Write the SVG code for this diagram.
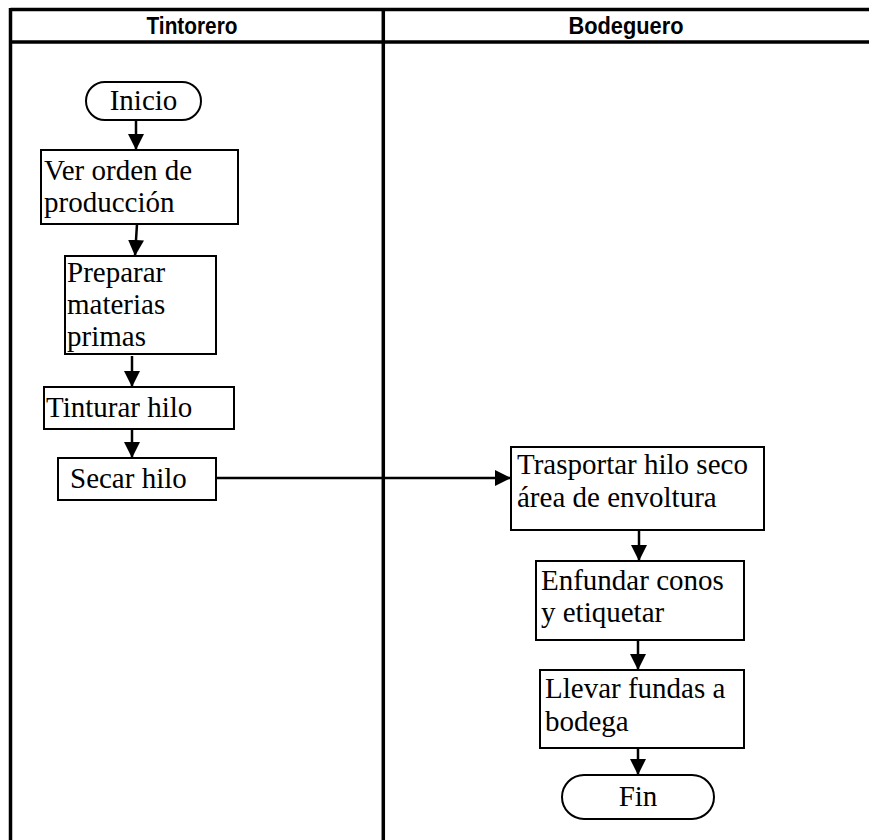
<svg xmlns="http://www.w3.org/2000/svg" width="869" height="840" viewBox="0 0 869 840">
<style>
.lane{fill:none;stroke:#000;stroke-width:3.5}
.hdr{font-family:"Liberation Sans",Arial,sans-serif;font-weight:bold;font-size:23px;fill:#000;text-anchor:middle}
.box{fill:#fff;stroke:#000;stroke-width:2}
.t{font-family:"Liberation Serif","Times New Roman",serif;font-size:29px;fill:#000}
.c{text-anchor:middle}
.con{fill:none;stroke:#000;stroke-width:2.5}
</style>
<defs>
<marker id="ah" markerUnits="userSpaceOnUse" markerWidth="16" markerHeight="18" refX="16" refY="8" orient="auto">
<path d="M0,0 L16,8 L0,16 Z" fill="#000"/>
</marker>
</defs>
<g id="lanes">
<line class="lane" x1="10.5" y1="9.5" x2="869" y2="9.5"/>
<line class="lane" x1="10.5" y1="42" x2="869" y2="42"/>
<line class="lane" x1="10.5" y1="8" x2="10.5" y2="840"/>
<line class="lane" x1="383.3" y1="8" x2="383.3" y2="840"/>
<text class="hdr" x="192" y="34" textLength="91" lengthAdjust="spacingAndGlyphs">Tintorero</text>
<text class="hdr" x="626" y="34" textLength="115" lengthAdjust="spacingAndGlyphs">Bodeguero</text>
</g>
<g id="connectors">
<line class="con" x1="136" y1="120" x2="136" y2="150" marker-end="url(#ah)"/>
<line class="con" x1="137" y1="224" x2="135" y2="256" marker-end="url(#ah)"/>
<line class="con" x1="132" y1="356" x2="132" y2="387" marker-end="url(#ah)"/>
<line class="con" x1="132" y1="429" x2="132" y2="458" marker-end="url(#ah)"/>
<line class="con" x1="216" y1="478" x2="511" y2="478" marker-end="url(#ah)"/>
<line class="con" x1="639" y1="530" x2="639" y2="561" marker-end="url(#ah)"/>
<line class="con" x1="638" y1="640" x2="638" y2="670" marker-end="url(#ah)"/>
<line class="con" x1="638" y1="748" x2="638" y2="775" marker-end="url(#ah)"/>
</g>
<g id="inicio">
<rect class="box" x="86" y="82" width="115" height="38" rx="19"/>
<text class="t c" x="143.5" y="110">Inicio</text>
</g>
<g id="ver">
<rect class="box" x="41" y="150" width="197" height="74"/>
<text class="t" x="44" y="180">Ver orden de</text>
<text class="t" x="44" y="212">producción</text>
</g>
<g id="preparar">
<rect class="box" x="65" y="256" width="151" height="98"/>
<text class="t" x="67" y="282">Preparar</text>
<text class="t" x="67" y="314">materias</text>
<text class="t" x="67" y="346">primas</text>
</g>
<g id="tinturar">
<rect class="box" x="44" y="387" width="190" height="42"/>
<text class="t" x="46" y="417">Tinturar hilo</text>
</g>
<g id="secar">
<rect class="box" x="58" y="458" width="158" height="42"/>
<text class="t" x="70" y="488">Secar hilo</text>
</g>
<g id="trasportar">
<rect class="box" x="511" y="447" width="253" height="83"/>
<text class="t" x="517" y="474">Trasportar hilo seco</text>
<text class="t" x="517" y="507">área de envoltura</text>
</g>
<g id="enfundar">
<rect class="box" x="536" y="561" width="208" height="79"/>
<text class="t" x="541" y="590">Enfundar conos</text>
<text class="t" x="541" y="622">y etiquetar</text>
</g>
<g id="llevar">
<rect class="box" x="540" y="670" width="204" height="78"/>
<text class="t" x="545" y="698">Llevar fundas a</text>
<text class="t" x="545" y="731">bodega</text>
</g>
<g id="fin">
<rect class="box" x="562" y="775" width="152" height="44" rx="22"/>
<text class="t c" x="638" y="806">Fin</text>
</g>
</svg>
